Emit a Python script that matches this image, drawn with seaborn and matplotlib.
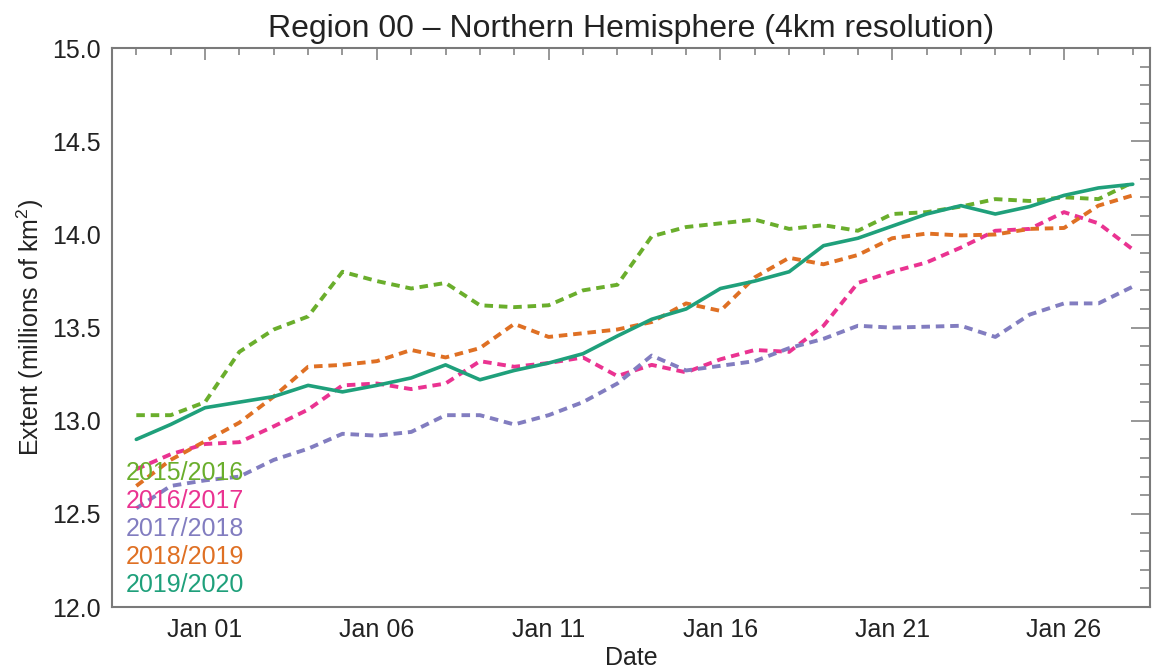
import pandas as pd
import numpy as np
import matplotlib.pyplot as plt
import matplotlib.dates as mdates
from matplotlib.ticker import MultipleLocator, FormatStrFormatter
import seaborn as sns

# %%
# daily sea ice extent, Dec 30 -> Jan 28, one list per season
dates = pd.date_range("2019-12-30", "2020-01-28", freq="D")
seasons = ["2015/2016", "2016/2017", "2017/2018", "2018/2019", "2019/2020"]

ext_1516 = [13.03, 13.03, 13.10, 13.37, 13.49, 13.56, 13.80, 13.75, 13.71, 13.74,
            13.62, 13.61, 13.62, 13.70, 13.73, 13.99, 14.04, 14.06, 14.08, 14.03,
            14.05, 14.02, 14.11, 14.12, 14.15, 14.19, 14.18, 14.20, 14.19, 14.28]
ext_1617 = [12.74, 12.82, 12.875, 12.885, 12.97, 13.06, 13.19, 13.20, 13.17, 13.20,
            13.32, 13.29, 13.31, 13.34, 13.24, 13.30, 13.26, 13.33, 13.38, 13.37,
            13.51, 13.74, 13.80, 13.85, 13.93, 14.02, 14.03, 14.12, 14.06, 13.92]
ext_1718 = [12.53, 12.65, 12.68, 12.70, 12.79, 12.85, 12.93, 12.92, 12.94, 13.03,
            13.03, 12.98, 13.03, 13.10, 13.20, 13.35, 13.27, 13.295, 13.32, 13.39,
            13.44, 13.51, 13.50, 13.505, 13.51, 13.45, 13.57, 13.63, 13.63, 13.72]
ext_1819 = [12.65, 12.79, 12.89, 12.99, 13.13, 13.29, 13.30, 13.32, 13.38, 13.34,
            13.39, 13.52, 13.45, 13.47, 13.49, 13.53, 13.63, 13.59, 13.77, 13.875,
            13.84, 13.89, 13.98, 14.005, 13.995, 14.00, 14.03, 14.035, 14.155, 14.21]
ext_1920 = [12.90, 12.98, 13.07, 13.10, 13.13, 13.19, 13.155, 13.19, 13.23, 13.30,
            13.22, 13.27, 13.31, 13.36, 13.455, 13.545, 13.60, 13.71, 13.75, 13.80,
            13.94, 13.98, 14.045, 14.11, 14.155, 14.11, 14.15, 14.21, 14.25, 14.27]

series = [ext_1516, ext_1617, ext_1718, ext_1819, ext_1920]
df = pd.concat(
    [pd.DataFrame({"date": dates, "extent": v, "season": s}) for s, v in zip(seasons, series)],
    ignore_index=True,
)

# %%
# Dark2-like, a touch lighter as in the original
colors = {
    "2015/2016": "#6aae2c",
    "2016/2017": "#ea3391",
    "2017/2018": "#827dc0",
    "2018/2019": "#df7024",
    "2019/2020": "#1fa07b",
}
dash = (2.2, 1.5)
dashes = {"2015/2016": dash, "2016/2017": dash, "2017/2018": dash,
          "2018/2019": dash, "2019/2020": ""}

sns.set_theme(style="white")
plt.rcParams['font.family'] = ['Liberation Sans', 'DejaVu Sans']
plt.rcParams['mathtext.default'] = 'regular'

fig = plt.figure(figsize=(11.52, 6.70), dpi=100)
ax = fig.add_axes([0.0972, 0.094, 0.901, 0.834])

sns.lineplot(data=df, x="date", y="extent", hue="season", style="season",
             palette=colors, dashes=dashes, linewidth=2.8, legend=False, ax=ax)
ax.lines[-1].set_linewidth(2.6)

ax.set_xlim(pd.Timestamp("2019-12-29 07:00"), pd.Timestamp("2020-01-28 12:00"))
ax.set_ylim(12.0, 15.0)

ax.xaxis.set_major_locator(mdates.DayLocator(bymonthday=[1, 6, 11, 16, 21, 26]))
ax.xaxis.set_minor_locator(mdates.DayLocator())
ax.xaxis.set_major_formatter(mdates.DateFormatter("%b %d"))
ax.yaxis.set_major_locator(MultipleLocator(0.5))
ax.yaxis.set_minor_locator(MultipleLocator(0.1))
ax.yaxis.set_major_formatter(FormatStrFormatter("%.1f"))

grey = "#7a7a7a"
for sp in ax.spines.values():
    sp.set_color(grey)
    sp.set_linewidth(1.5)
ax.tick_params(which="both", direction="in", top=True, right=True,
               color=grey, width=1.1, labelcolor="#222222", labelsize=18)
ax.tick_params(axis="y", which="major", length=14, pad=8)
ax.tick_params(axis="y", which="minor", length=7)
ax.tick_params(axis="x", which="major", length=8.5, pad=8)
ax.tick_params(axis="x", which="minor", length=4.7)

ax.set_title("Region 00 \u2013 Northern Hemisphere (4km resolution)",
             fontsize=23, color="#222222", pad=8)
ax.set_xlabel("Date", fontsize=18, color="#222222")
ax.set_ylabel("Extent (millions of km$^2$)", fontsize=18, color="#222222")
ax.xaxis.set_label_coords(0.5, -0.07)
ax.yaxis.set_label_coords(-0.064, 0.5)

# season labels in the lower left corner, coloured like the lines
label_y = [0.240, 0.190, 0.140, 0.089, 0.039]
for s, yy in zip(seasons, label_y):
    ax.text(0.0135, yy, s, transform=ax.transAxes, color=colors[s],
            fontsize=18, ha="left", va="center")

fig.savefig("out.png", dpi=100)
